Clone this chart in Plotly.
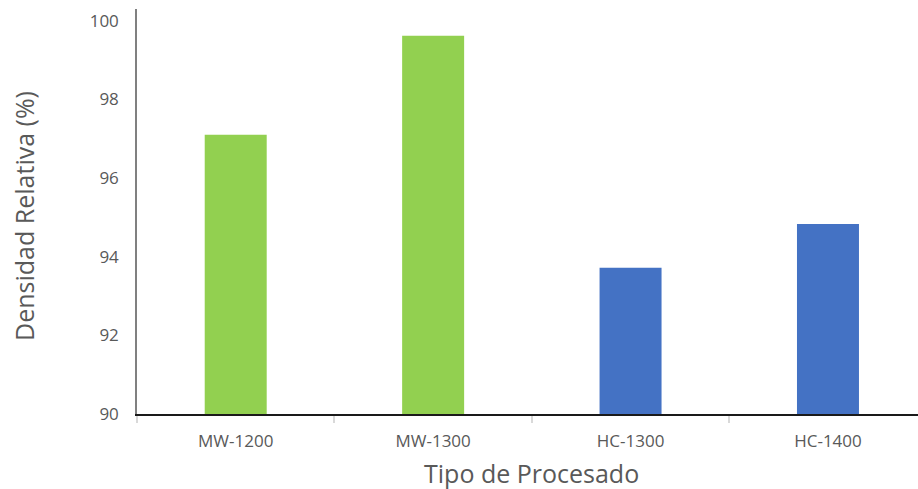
import plotly.graph_objects as go

# Relative density by processing route
categories = ["MW-1200", "MW-1300", "HC-1300", "HC-1400"]
densidad = [97.1, 99.62, 93.72, 94.83]
colores = ["#92D050", "#92D050", "#4472C4", "#4472C4"]

y_ticks = [90, 92, 94, 96, 98, 100]

FONT = "Open Sans"
GRIS = "#595959"

fig = go.Figure(
    go.Bar(
        x=categories,
        y=densidad,
        marker=dict(color=colores, line=dict(width=0)),
        width=0.314,
        hoverinfo="x+y",
    )
)

fig.update_layout(
    width=918,
    height=489,
    margin=dict(l=137, r=0, t=9, b=75),
    paper_bgcolor="white",
    plot_bgcolor="white",
    showlegend=False,
    font=dict(family=FONT, color=GRIS),
)

fig.update_xaxes(
    type="category",
    range=[-0.5, 3.456],
    showline=True,
    linecolor="#1a1a1a",
    linewidth=1.5,
    ticks="outside",
    tickson="boundaries",
    ticklen=7,
    tickcolor="#d9d9d9",
    tickwidth=1.5,
    ticklabelstandoff=11,
    tickfont=dict(family=FONT, size=17, color=GRIS),
    showgrid=False,
    zeroline=False,
)

fig.update_yaxes(
    range=[90, 100.3],
    tickvals=y_ticks,
    showline=True,
    linecolor="#808080",
    linewidth=1.5,
    ticks="",
    ticklabelstandoff=13,
    tickfont=dict(family=FONT, size=17, color=GRIS),
    showgrid=False,
    zeroline=False,
)

# Axis titles
fig.add_annotation(
    text="Tipo de Procesado",
    xref="x", x=1.5,
    yref="paper", y=-0.146,
    yanchor="middle",
    showarrow=False,
    font=dict(family=FONT, size=25, color=GRIS),
)
fig.add_annotation(
    text="Densidad Relativa (%)",
    xref="paper", x=-0.1455,
    yref="paper", y=0.49,
    xanchor="center", yanchor="middle",
    textangle=-90,
    showarrow=False,
    font=dict(family=FONT, size=25, color=GRIS),
)

fig.write_html("out.html")
